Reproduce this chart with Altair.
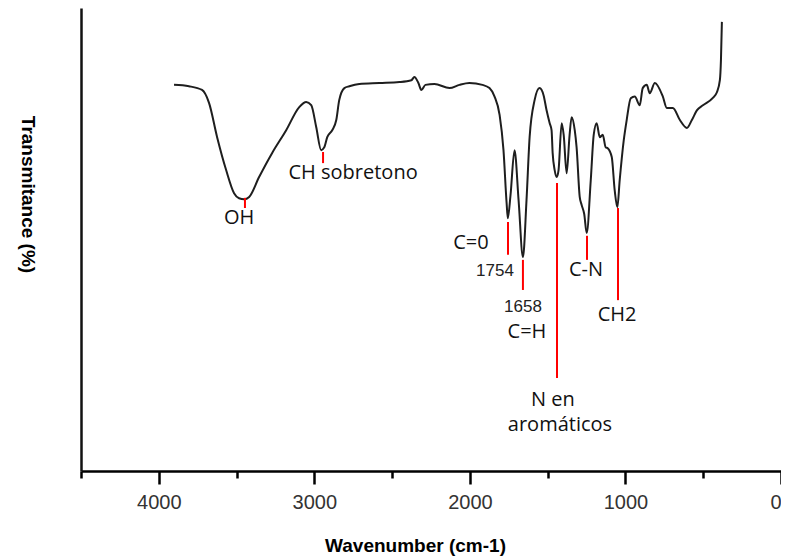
import altair as alt
import pandas as pd

# ---- spectrum ----
wavenumber = [3902, 3806, 3722, 3677, 3625, 3567, 3516, 3484, 3451, 3419,
              3355, 3271, 3181, 3097, 3052, 3020, 2988, 2956, 2936, 2917,
              2885, 2859, 2840, 2807, 2775, 2711, 2582, 2453, 2376, 2357,
              2331, 2312, 2286, 2228, 2131, 2067, 2003, 1919, 1874, 1842,
              1809, 1784, 1764, 1756, 1739, 1713, 1687, 1659, 1636, 1616,
              1584, 1552, 1526, 1507, 1487, 1475, 1468, 1455, 1442, 1430,
              1410, 1397, 1378, 1359, 1346, 1326, 1314, 1294, 1282, 1265,
              1249, 1223, 1204, 1185, 1165, 1146, 1127, 1114, 1088, 1069,
              1052, 1037, 1011, 992, 966, 940, 908, 889, 863, 844,
              811, 760, 734, 695, 650, 605, 573, 541, 502, 438,
              412, 393, 386, 380]
transmittance = [83.4, 83.1, 82.3, 79.5, 72.1, 65.0, 60.0, 58.9, 58.7, 59.2,
                 63.5, 68.7, 73.6, 78.6, 79.7, 79.0, 74.3, 69.3, 69.9, 72.1,
                 73.6, 75.8, 80.1, 82.7, 83.1, 83.6, 83.8, 84.0, 84.4, 85.1,
                 83.8, 82.3, 83.4, 83.6, 82.7, 83.4, 83.8, 83.4, 82.7, 80.9,
                 76.9, 69.3, 57.9, 54.6, 59.5, 69.3, 58.5, 46.2, 58.5, 72.1,
                 80.1, 82.7, 81.1, 77.9, 75.1, 73.6, 68.7, 65.0, 63.5, 65.0,
                 75.1, 72.6, 64.3, 72.6, 76.4, 73.6, 69.9, 59.2, 57.5, 55.5,
                 51.4, 62.8, 72.6, 75.1, 72.1, 72.6, 69.9, 69.7, 67.8, 60.6,
                 57.0, 62.8, 71.4, 75.8, 80.5, 80.9, 79.0, 82.7, 83.4, 81.6,
                 83.8, 80.9, 78.4, 78.4, 75.8, 74.1, 75.8, 77.9, 79.0, 80.6,
                 81.8, 84.4, 88.8, 97.0]

# ---- red marker lines ----
band_wn = [3446, 2944, 1755, 1659, 1440, 1247, 1048]
band_top = [59.0, 68.9, 53.8, 45.6, 62.2, 50.8, 56.8]
band_bottom = [56.8, 66.5, 46.7, 39.1, 20.1, 45.6, 36.9]

# ---- annotation texts ----
label_text = ["OH", "CH sobretono", "C=0", "C=H", "C-N", "CH2", "N en", "aromáticos"]
label_wn = [3484, 2751, 1993, 1633, 1254, 1054, 1466, 1421]
label_t = [54.6, 64.4, 49.2, 30.0, 43.4, 33.7, 15.3, 9.9]

number_text = ["1754", "1658"]
number_wn = [1839, 1659]
number_t = [43.2, 35.4]

major_ticks = [0, 1000, 2000, 3000, 4000]
minor_ticks = [500, 1500, 2500, 3500, 4500]

spec = pd.DataFrame({"wn": wavenumber, "t": transmittance})
bands = pd.DataFrame({"wn": band_wn, "t1": band_top, "t2": band_bottom})
labels = pd.DataFrame({"wn": label_wn, "t": label_t, "txt": label_text})
numbers = pd.DataFrame({"wn": number_wn, "t": number_t, "txt": number_text})
minor = pd.DataFrame({"wn": minor_ticks, "t": [0] * len(minor_ticks)})

xscale = alt.Scale(domain=[0, 4500], reverse=True, nice=False, zero=False)
yscale = alt.Scale(domain=[0, 100], nice=False, zero=False)

AX_FONT = "Liberation Sans"

major_axis = alt.Axis(
    values=major_ticks, orient="bottom", grid=False, format="d",
    domain=True, domainColor="#000000", domainWidth=2.5,
    ticks=True, tickSize=13, tickWidth=2.5, tickColor="#000000",
    labels=True, labelFont=AX_FONT, labelFontSize=20, labelColor="#333333",
    labelBaseline="middle", labelPadding=18, labelFlush=True, labelFlushOffset=0,
    title="Wavenumber (cm-1)", titleFont=AX_FONT, titleFontSize=19,
    titleFontWeight="bold", titleColor="#000000",
    titleX=334, titleY=74, titleAlign="center", titleBaseline="middle",
)
minor_axis = alt.Axis(
    values=minor_ticks, orient="bottom", grid=False, domain=False,
    ticks=True, tickSize=7, tickWidth=2.5, tickColor="#000000",
    labels=False, title=None,
)
y_axis = alt.Axis(
    orient="left", grid=False, domain=True, domainColor="#111111", domainWidth=2.5,
    ticks=False, labels=False,
    title="Transmitance (%)", titleFont=AX_FONT, titleFontSize=19,
    titleFontWeight="bold", titleColor="#000000", titleAngle=90,
    titleX=-54, titleY=186, titleAlign="center", titleBaseline="middle",
)

Y = alt.Y("t:Q", scale=yscale, axis=y_axis)

line = alt.Chart(spec).mark_line(
    color="#1e1e1e", strokeWidth=2, interpolate="monotone"
).encode(
    x=alt.X("wn:Q", scale=xscale, axis=major_axis),
    y=Y,
)

minor_layer = alt.Chart(minor).mark_point(opacity=0).encode(
    x=alt.X("wn:Q", scale=xscale, axis=minor_axis),
    y=Y,
)

rules = alt.Chart(bands).mark_rule(color="#ff0000", strokeWidth=2).encode(
    x=alt.X("wn:Q", scale=xscale, axis=None),
    y=alt.Y("t1:Q", scale=yscale, axis=y_axis),
    y2="t2:Q",
)

texts = alt.Chart(labels).mark_text(
    font="Open Sans", fontSize=20, color="#111111", align="center", baseline="middle"
).encode(
    x=alt.X("wn:Q", scale=xscale, axis=None),
    y=Y,
    text="txt:N",
)

nums = alt.Chart(numbers).mark_text(
    font="Liberation Sans", fontSize=17, color="#222222", align="center", baseline="middle"
).encode(
    x=alt.X("wn:Q", scale=xscale, axis=None),
    y=Y,
    text="txt:N",
)

chart = alt.layer(line, minor_layer, rules, texts, nums).resolve_axis(
    x="independent"
).properties(
    width=700, height=463,
    autosize=alt.AutoSizeParams(type="none"),
    padding={"left": 73, "top": 0, "right": 0, "bottom": 88},
).configure_view(strokeWidth=0)

chart.save("out.html", embed_options={"renderer": "svg", "actions": False})
